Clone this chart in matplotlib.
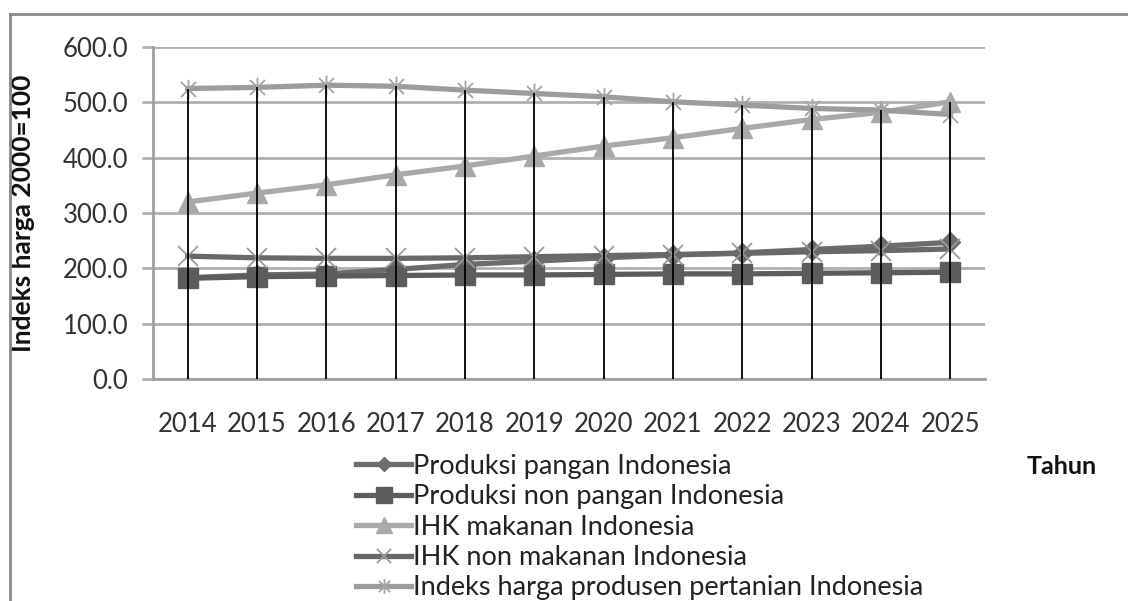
import numpy as np
import matplotlib
matplotlib.use("Agg")
import matplotlib.pyplot as plt
from matplotlib.path import Path
from matplotlib.lines import Line2D

plt.rcParams['font.family'] = ['Lato', 'DejaVu Sans']

tahun = ['2014', '2015', '2016', '2017', '2018', '2019',
         '2020', '2021', '2022', '2023', '2024', '2025']

produksi_pangan = [183, 188, 190, 198, 207, 213, 219, 224, 228, 234, 240, 247]
produksi_non_pangan = [182, 185, 186, 187, 188, 188, 189, 190, 190, 191, 192, 193]
ihk_makanan = [320, 336, 351, 369, 385, 403, 421, 436, 453, 469, 482, 501]
ihk_non_makanan = [222, 219, 218, 218, 219, 221, 223, 225, 227, 230, 232, 235]
harga_produsen = [525, 527, 531, 529, 522, 516, 510, 501, 495, 489, 486, 478]

labels = ['Produksi pangan Indonesia',
          'Produksi non pangan Indonesia',
          'IHK makanan Indonesia',
          'IHK non makanan Indonesia',
          'Indeks harga produsen pertanian Indonesia']

# asterisk marker: X with a vertical stroke
asterisk = Path([(-1, -1), (1, 1), (-1, 1), (1, -1), (0, -1.3), (0, 1.3)],
                [Path.MOVETO, Path.LINETO, Path.MOVETO, Path.LINETO,
                 Path.MOVETO, Path.LINETO])

fig = plt.figure(figsize=(11.28, 6.01), dpi=100)
ax = fig.add_axes([153 / 1128, 1 - 379 / 601, 832 / 1128, 332 / 601])

x = np.arange(len(tahun))
series = [produksi_pangan, produksi_non_pangan, ihk_makanan,
          ihk_non_makanan, harga_produsen]

# drop lines from the highest point down to the axis
top = np.max(np.array(series), axis=0)
ax.vlines(x, 0, top, color='black', lw=1.3, zorder=4)

styles = [
    dict(color='#6c6c6c', marker='D', ms=10, mec='#6c6c6c', mfc='#6c6c6c'),
    dict(color='#5c5c5c', marker='s', ms=15, mec='#5c5c5c', mfc='#5c5c5c'),
    dict(color='#a9a9a9', marker='^', ms=15, mec='#a9a9a9', mfc='#a9a9a9'),
    dict(color='#686868', marker='x', ms=14, mec='#9a9a9a', mew=1.3),
    dict(color='#9c9c9c', marker=asterisk, ms=14, mec='#a5a5a5', mew=1.3),
]
order = [4, 2, 3, 0, 1]
handles = [None] * 5
for i in order:
    h, = ax.plot(x, series[i], lw=3.8, zorder=3 + i * 0.1, label=labels[i],
                 **styles[i])
    handles[i] = h

ax.set_xlim(-0.5, len(tahun) - 0.5)
ax.set_ylim(0, 600)
ax.set_yticks(np.arange(0, 601, 100))
ax.set_yticklabels([f'{v:.1f}' for v in np.arange(0, 601, 100)])
ax.set_xticks(x)
ax.set_xticklabels(tahun)
ax.yaxis.grid(True, color='#b0b0b0', lw=2)
ax.set_axisbelow(True)
ax.tick_params(axis='y', length=8, width=2, color='#b0b0b0', labelsize=18.5,
               labelcolor='#333333', pad=10)
ax.tick_params(axis='x', length=0, labelsize=18.5, labelcolor='#333333', pad=24)
for s in ['top', 'right']:
    ax.spines[s].set_visible(False)
for s in ['left', 'bottom']:
    ax.spines[s].set_color('#a0a0a0')
    ax.spines[s].set_linewidth(2)

ax.set_ylabel('Indeks harga 2000=100', fontsize=19, fontweight='bold',
              color='#111111')
ax.yaxis.set_label_coords(-0.142, 0.5)

fig.text(1062 / 1128, 1 - 466 / 601, 'Tahun', fontsize=18, fontweight='bold',
         ha='center', va='center', color='#111111')

fig.legend(handles=handles, loc='upper left',
           bbox_to_anchor=(345 / 1128, 1 - 443 / 601), frameon=False,
           fontsize=19.5, handlelength=2.05, handletextpad=0.05,
           labelspacing=0.2, borderaxespad=0, markerscale=0.75,
           labelcolor='#222222')

# outer frame
fig.add_artist(Line2D([10 / 1128, 10 / 1128], [0, 1 - 14 / 601],
                      color='#8a8a8a', lw=2, transform=fig.transFigure))
fig.add_artist(Line2D([10 / 1128, 1], [1 - 14 / 601, 1 - 14 / 601],
                      color='#8a8a8a', lw=2, transform=fig.transFigure))

fig.savefig('out.png', dpi=100)
